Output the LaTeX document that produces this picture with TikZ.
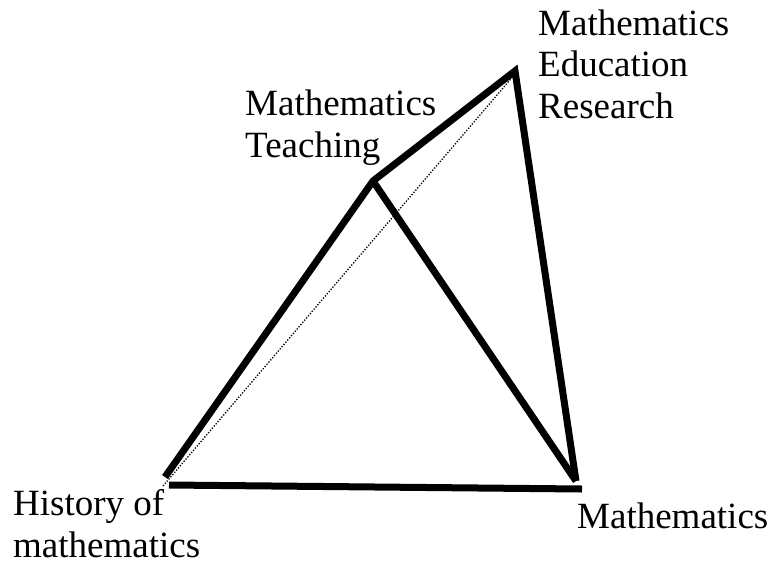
\documentclass[tikz,border=0pt]{standalone}
\usepackage{fontspec}
\newfontfamily\lserif{LiberationSerif}[Extension=.ttf,UprightFont=*-Regular,BoldFont=*-Bold]
\begin{document}
\begin{tikzpicture}[x=1pt,y=-1pt,
  thickedge/.style={line width=7pt,line join=miter,line cap=butt},
  dottededge/.style={line width=1.3pt,dash pattern=on 1.3pt off 1.6pt},
  lbl/.style={inner sep=0pt,align=left,font=\lserif\fontsize{37}{41.5}\selectfont}]
\useasboundingbox (0,0) rectangle (774,563);
\coordinate (H) at (165,477);
\coordinate (T) at (373,181);
\coordinate (R) at (515,71);
\coordinate (M) at (576,481);
\coordinate (B1) at (169,485);
\coordinate (B2) at (582,489);
\coordinate (D1) at (163,486);
\coordinate (D2) at (515,74);
\draw[dottededge] (D1) -- (D2);
\draw[thickedge] (H) -- (T) -- (R) -- (M);
\draw[thickedge] (T) -- (M);
\draw[thickedge] (B1) -- (B2);
\node[lbl,anchor=base west] (lblR) at (538,118) {Mathematics\\Education\\Research};
\node[lbl,anchor=base west] (lblT) at (245,157) {Mathematics\\Teaching};
\node[lbl,anchor=base west] (lblH) at (13,557) {History of\\mathematics};
\node[lbl,anchor=base west] (lblM) at (577,528) {Mathematics};
\end{tikzpicture}
\end{document}
